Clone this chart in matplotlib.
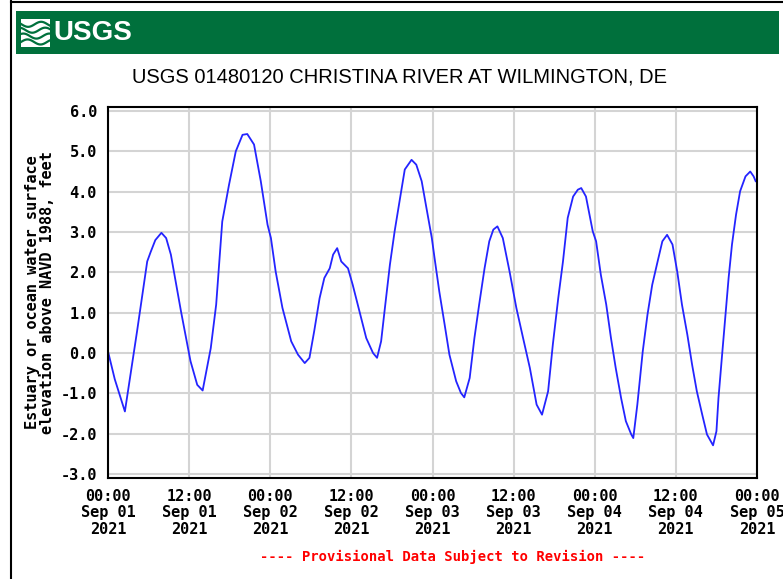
import numpy as np
import pandas as pd
import matplotlib
matplotlib.use("Agg")
import matplotlib.pyplot as plt
import matplotlib.dates as mdates
from matplotlib.patches import Rectangle
from matplotlib.lines import Line2D

# hours after 2021-09-01 00:00 and gage height (ft)
hours = [0.0, 1.0, 2.5, 4.3, 5.8, 6.3, 7.0, 7.9, 8.6, 9.3, 10.8, 12.2, 13.2, 14.0,
         15.2, 16.0, 16.9, 17.9, 18.9, 19.9, 20.6, 21.6, 22.6, 23.6,
         24.1, 24.8, 25.8, 27.1, 28.1, 29.1, 29.8, 30.5, 31.3, 32.0, 32.8, 33.3,
         33.9, 34.5, 35.5, 36.2, 37.2, 38.2, 39.2, 39.8, 40.4, 40.9, 41.7, 42.4,
         43.2, 43.9, 44.9, 45.6, 46.4, 47.1, 47.9,
         48.3, 49.0, 49.8, 50.5, 51.5, 52.2, 52.7, 53.5, 54.2, 54.9, 55.7, 56.4,
         57.0, 57.6, 58.4, 59.4, 60.4, 61.4, 62.4, 63.4, 64.2, 65.1, 65.8, 66.6,
         67.3, 68.0, 68.8, 69.5, 70.0, 70.7, 71.7,
         72.2, 72.9, 73.7, 74.4, 75.1, 75.9, 76.6, 77.4, 77.7, 78.3, 79.1, 79.8,
         80.5, 81.3, 82.0, 82.7, 83.5, 84.2, 84.9, 85.7, 86.4, 87.1, 87.9, 88.6,
         89.5, 90.0, 90.3, 90.8, 91.3, 91.8, 92.3, 92.9, 93.5, 94.3, 95.0, 95.5,
         95.8]
level = [0.04, -0.65, -1.45, 0.54, 2.27, 2.5, 2.8, 2.98, 2.85, 2.44, 1.03, -0.2,
         -0.79, -0.93, 0.12, 1.2, 3.26, 4.17, 5.0, 5.41, 5.43, 5.17, 4.26, 3.18,
         2.85, 2.02, 1.12, 0.29, -0.04, -0.25, -0.12, 0.54, 1.36, 1.86, 2.1, 2.44,
         2.6, 2.27, 2.1, 1.69, 1.03, 0.37, 0.0, -0.12, 0.29, 1.03, 2.19, 3.02,
         3.84, 4.55, 4.79, 4.67, 4.26, 3.6, 2.85,
         2.36, 1.53, 0.7, -0.04, -0.7, -0.99, -1.1, -0.62, 0.37, 1.2, 2.1, 2.77,
         3.06, 3.14, 2.85, 2.02, 1.12, 0.37, -0.37, -1.28, -1.53, -0.95, 0.21, 1.36,
         2.27, 3.35, 3.88, 4.05, 4.09, 3.88, 3.02,
         2.77, 1.94, 1.2, 0.37, -0.37, -1.12, -1.69, -2.02, -2.11, -1.28, 0.04, 0.95,
         1.69, 2.27, 2.77, 2.93, 2.69, 2.02, 1.2, 0.45, -0.29, -0.95, -1.53, -2.02,
         -2.29, -1.94, -1.12, -0.12, 0.87, 1.86, 2.69, 3.43, 4.01, 4.38, 4.5, 4.38,
         4.26]

y_ticks = [-3.0, -2.0, -1.0, 0.0, 1.0, 2.0, 3.0, 4.0, 5.0, 6.0]
title = "USGS 01480120 CHRISTINA RIVER AT WILMINGTON, DE"
ylabel = "Estuary or ocean water surface\nelevation above NAVD 1988, feet"
note = "---- Provisional Data Subject to Revision ----"

start = pd.Timestamp("2021-09-01")
times = start + pd.to_timedelta(hours, unit="h")

W, H = 783, 579
fig = plt.figure(figsize=(W / 100, H / 100), dpi=100)
mono = "DejaVu Sans Mono"
green = "#00703c"

# frame and USGS banner
fig.add_artist(Line2D([11 / W, 11 / W], [0, 1], color="black", lw=1.5))
fig.add_artist(Line2D([11 / W, 1], [1 - 1.5 / H, 1 - 1.5 / H], color="black", lw=1.5))
fig.add_artist(Rectangle((16 / W, 1 - 54 / H), 763 / W, 43 / H,
                         facecolor=green, edgecolor="none", zorder=0))
fig.text(53 / W, 1 - 33 / H, "USGS", color="white", fontsize=20, fontweight="bold",
         family="Liberation Sans", va="center", ha="left")

# wave logo
logo = fig.add_axes([21 / W, 1 - 47 / H, 29 / W, 28 / H], zorder=5)
logo.set_xlim(0, 1)
logo.set_ylim(0, 1)
logo.axis("off")
logo.add_patch(Rectangle((0, 0), 1, 1, facecolor="white", edgecolor="none"))
wx = np.linspace(0, 1, 50)
for k in range(4):
    logo.plot(wx, 0.18 + 0.21 * k + 0.09 * np.sin(wx * 7 + k), color=green, lw=1.6)

fig.text(399 / W, 1 - 77 / H, title, fontsize=14.5, family="Liberation Sans",
         ha="center", va="center")

ax = fig.add_axes([108 / W, 1 - 478 / H, 649 / W, 371 / H])
ax.plot(times, level, color="#2424ff", lw=1.3)

ax.set_xlim(start, start + pd.Timedelta(hours=96))
ax.set_ylim(-3.1, 6.1)
ax.set_yticks(y_ticks)
ax.set_yticklabels([f"{v:.1f}" for v in y_ticks])
ax.xaxis.set_major_locator(mdates.HourLocator(byhour=[0, 12]))
ax.xaxis.set_major_formatter(mdates.DateFormatter("%H:%M\n%b %d\n%Y"))

ax.grid(True, color="#d4d4d4", lw=1.5)
ax.set_axisbelow(True)
for s in ax.spines.values():
    s.set_linewidth(1.5)
ax.tick_params(length=0, pad=8)
for lbl in ax.get_xticklabels() + ax.get_yticklabels():
    lbl.set_family(mono)
    lbl.set_fontweight("bold")
    lbl.set_fontsize(11)
for lbl in ax.get_xticklabels():
    lbl.set_linespacing(1.1)

ax.set_ylabel(ylabel, family=mono, fontweight="bold", fontsize=11, labelpad=4,
              linespacing=0.95)

fig.text(453 / W, 1 - 557 / H, note, color="red", family=mono, fontweight="bold",
         fontsize=10, ha="center", va="center")

fig.savefig("out.png", dpi=100)
